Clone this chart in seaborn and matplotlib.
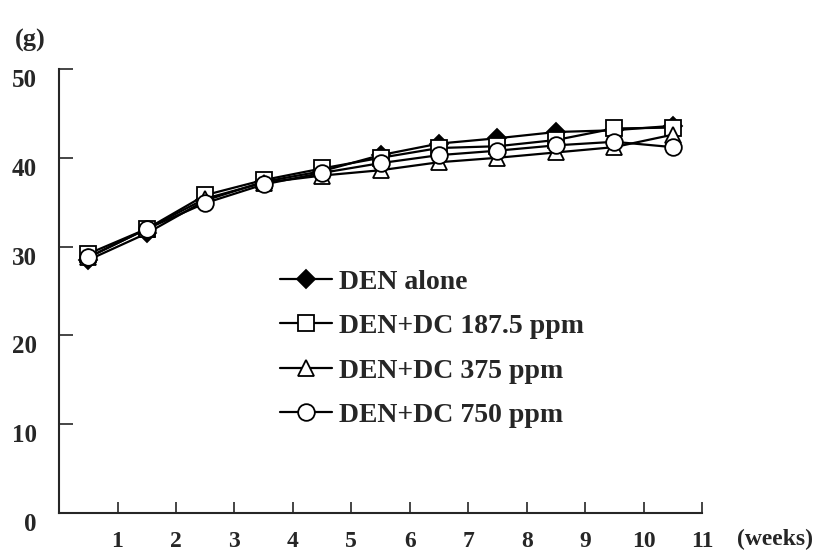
import pandas as pd
import seaborn as sns
import matplotlib.pyplot as plt

weeks = [0.5, 1.5, 2.5, 3.5, 4.5, 5.5, 6.5, 7.5, 8.5, 9.5, 10.5]
den_alone = [28.5, 31.5, 35.2, 37.3, 38.5, 40.3, 41.6, 42.2, 42.9, 43.1, 43.6]
dc_187 = [29.2, 32.0, 35.8, 37.5, 38.8, 40.0, 41.1, 41.3, 42.0, 43.3, 43.4]
dc_375 = [28.8, 32.0, 35.4, 37.2, 38.0, 38.6, 39.5, 40.0, 40.6, 41.2, 42.6]
dc_750 = [28.8, 32.0, 34.9, 37.0, 38.3, 39.4, 40.3, 40.8, 41.4, 41.8, 41.2]

labels = ['DEN alone', 'DEN+DC 187.5 ppm', 'DEN+DC 375 ppm', 'DEN+DC 750 ppm']
series = [den_alone, dc_187, dc_375, dc_750]
markers = ['D', 's', '^', 'o']
faces = ['black', 'white', 'white', 'white']
msizes = [9, 11, 11, 12]

sns.set_style('ticks')
plt.rcParams['font.family'] = ['Liberation Serif', 'DejaVu Serif']
plt.rcParams['font.weight'] = 'bold'

fig = plt.figure(figsize=(8.21, 5.56), dpi=100)
ax = fig.add_axes([0.072, 0.077, 0.783, 0.799])

for lab, vals, m, fc, ms in zip(labels, series, markers, faces, msizes):
    df = pd.DataFrame({'week': weeks, 'weight': vals})
    sns.lineplot(data=df, x='week', y='weight', ax=ax, color='black', lw=1.6,
                 marker=m, markersize=ms, markerfacecolor=fc,
                 markeredgecolor='black', markeredgewidth=1.3, label=lab)

ax.set_xlim(0, 11)
ax.set_ylim(0, 50)
ax.set_xticks(range(1, 12))
ax.set_yticks(range(0, 51, 10))
ax.tick_params(axis='x', direction='in', length=8, width=1.2, pad=13, labelsize=17)
ax.tick_params(axis='y', direction='in', length=10, width=1.2, pad=16, labelsize=18)
for lbl in ax.get_xticklabels() + ax.get_yticklabels():
    lbl.set_fontweight('bold')
for lbl in ax.get_yticklabels():
    lbl.set_verticalalignment('top')
sns.despine(ax=ax)
ax.spines['left'].set_linewidth(1.5)
ax.spines['bottom'].set_linewidth(1.5)
ax.set_xlabel('')
ax.set_ylabel('')

fig.text(0.018, 0.927, '(g)', fontsize=19, fontweight='bold', ha='left', va='center')
fig.text(0.898, 0.03, '(weeks)', fontsize=17, fontweight='bold', ha='left', va='center')

ax.legend(loc='upper left', bbox_to_anchor=(0.322, 0.58), frameon=False,
          prop={'size': 20, 'weight': 'bold'}, handlelength=1.87,
          labelspacing=0.68, handletextpad=0.25, borderpad=0)

plt.savefig('out.png', dpi=100)
